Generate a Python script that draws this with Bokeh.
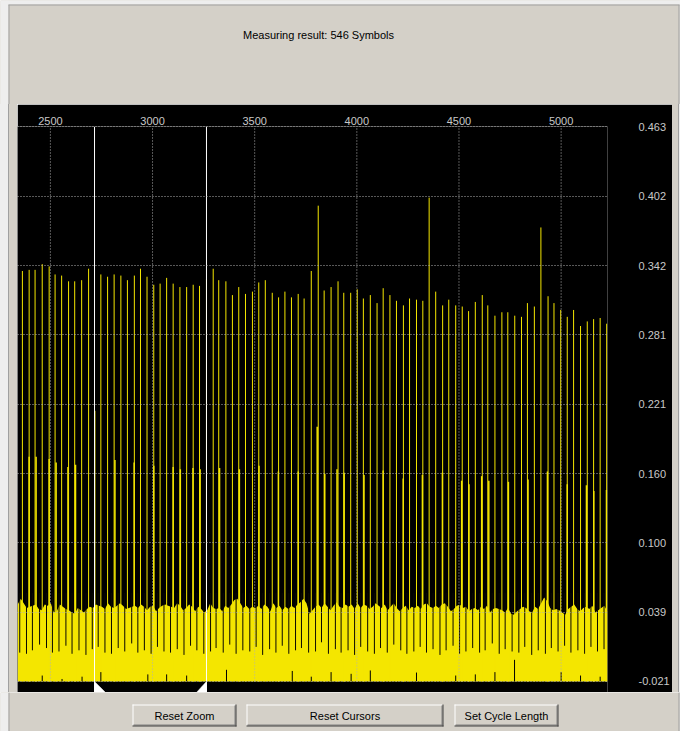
import numpy as np
from bokeh.plotting import figure
from bokeh.layouts import column, row
from bokeh.models import Range1d, FixedTicker, NumeralTickFormatter, Spacer
from bokeh.core.properties import value
from bokeh.embed import file_html
from bokeh.resources import INLINE

PANEL = "#D4D0C8"
OUTER = "#EEEEEE"
EDGE = "#A0A0A0"
YELLOW = "#F4E600"
LABEL = "#C8C8C8"
GRID = "#B0B0B0"
FONT = "Liberation Sans"

# ---------------- data ----------------
title_text = "Measuring result: 546 Symbols"
x_ticks = [2500, 3000, 3500, 4000, 4500, 5000]
y_ticks = [-0.0212, 0.0393, 0.0998, 0.1603, 0.2208, 0.2813, 0.3418, 0.4023, 0.4628]
x_view = (2339, 5227)
y_view = (-0.0308, 0.4631)
floor_level = -0.0212

# tall symbol peaks (sample index, amplitude)
spike_x = [2363, 2396, 2425, 2460, 2494, 2523, 2555, 2589, 2619, 2653,
           2687, 2718, 2747, 2780, 2812, 2845, 2877, 2911, 2941, 2973,
           3006, 3037, 3069, 3101, 3134, 3167, 3199, 3230, 3264, 3297,
           3324, 3359, 3391, 3422, 3455, 3489, 3520, 3552, 3586, 3617,
           3648, 3680, 3713, 3742, 3777, 3811, 3840, 3874, 3908, 3936,
           3970, 4002, 4032, 4066, 4099, 4129, 4162, 4194, 4228, 4258,
           4292, 4323, 4354, 4386, 4420, 4450, 4484, 4516, 4547, 4580,
           4614, 4641, 4676, 4710, 4739, 4773, 4806, 4835, 4869, 4901,
           4936, 4965, 4998, 5030, 5061, 5095, 5128, 5159, 5191, 5223]
spike_y = [0.337, 0.338, 0.338, 0.343, 0.341, 0.334, 0.333, 0.328, 0.328, 0.329,
           0.339, 0.215, 0.334, 0.332, 0.334, 0.333, 0.329, 0.333, 0.339, 0.332,
           0.325, 0.326, 0.331, 0.326, 0.323, 0.323, 0.325, 0.324, 0.330, 0.339,
           0.329, 0.328, 0.316, 0.323, 0.317, 0.319, 0.327, 0.329, 0.318, 0.314,
           0.319, 0.314, 0.317, 0.313, 0.337, 0.394, 0.320, 0.323, 0.328, 0.318,
           0.318, 0.321, 0.313, 0.316, 0.309, 0.322, 0.316, 0.311, 0.307, 0.313,
           0.312, 0.311, 0.401, 0.319, 0.307, 0.312, 0.307, 0.306, 0.302, 0.310,
           0.316, 0.307, 0.298, 0.301, 0.301, 0.298, 0.297, 0.309, 0.306, 0.375,
           0.315, 0.309, 0.303, 0.297, 0.303, 0.289, 0.293, 0.295, 0.296, 0.291]

# shoulder samples of medium height
mid_x = [2396, 2430, 2494, 2528, 2586, 2623, 2816, 2910, 3006, 3101,
         3136, 3198, 3233, 3328, 3425, 3521, 3616, 3713, 3806, 3843,
         3903, 3938, 4035, 4129, 4227, 4321, 4419, 4513, 4549, 4611,
         4646, 4742, 4838, 4933, 5030, 5124, 5160, 5222]
mid_y = [0.175, 0.175, 0.173, 0.170, 0.166, 0.168, 0.172, 0.170, 0.167, 0.166,
         0.164, 0.165, 0.164, 0.165, 0.164, 0.167, 0.162, 0.162, 0.201, 0.160,
         0.164, 0.161, 0.159, 0.163, 0.156, 0.159, 0.161, 0.154, 0.151, 0.158,
         0.154, 0.153, 0.155, 0.162, 0.151, 0.150, 0.145, 0.146]

# dips of the noise floor just before each symbol
notch_x = [2350, 2383, 2412, 2447, 2481, 2510, 2542, 2576, 2606, 2640,
           2674, 2705, 2734, 2767, 2799, 2832, 2864, 2898, 2928, 2960,
           2993, 3024, 3056, 3088, 3121, 3154, 3186, 3217, 3251, 3284,
           3311, 3346, 3378, 3409, 3442, 3476, 3507, 3539, 3573, 3604,
           3635, 3667, 3700, 3729, 3764, 3798, 3827, 3861, 3895, 3923,
           3957, 3989, 4019, 4053, 4086, 4116, 4149, 4181, 4215, 4245,
           4279, 4310, 4341, 4373, 4407, 4437, 4471, 4503, 4534, 4567,
           4601, 4628, 4663, 4697, 4726, 4760, 4793, 4822, 4856, 4888,
           4923, 4952, 4985, 5017, 5048, 5082, 5115, 5146, 5178, 5210]
notch_y = [0.004, 0.003, 0.006, 0.011, 0.008, 0.004, 0.005, 0.010, 0.003, 0.006,
           0.002, 0.007, 0.009, 0.004, 0.003, 0.008, 0.005, 0.012, 0.004, 0.006,
           0.003, 0.009, 0.005, 0.004, 0.007, 0.002, 0.010, 0.006, 0.003, 0.005,
           0.008, 0.004, 0.011, 0.003, 0.006, 0.005, 0.009, 0.002, 0.007, 0.004,
           0.010, 0.003, 0.006, 0.008, 0.004, 0.005, 0.013, 0.003, 0.007, 0.004,
           0.006, 0.002, 0.009, 0.005, 0.003, 0.008, 0.004, 0.011, 0.006, 0.003,
           0.005, 0.009, 0.004, 0.007, 0.002, 0.006, 0.010, 0.003, 0.005, 0.008,
           0.004, 0.006, 0.012, 0.003, 0.007, 0.005, 0.004, 0.009, 0.002, 0.006,
           0.003, 0.008, 0.005, 0.010, 0.004, 0.006, 0.003, 0.009, 0.005, 0.007]

# places where the signal minimum stays above the floor
bump_x = [2460, 2557, 2655, 2747, 2977, 3069, 3167, 3362, 3684, 3777, 3874,
          3972, 4066, 4292, 4484, 4580, 4676, 4772, 5000, 5095, 5191]
bump_y = [-0.016, -0.019, -0.017, -0.013, -0.015, -0.015, -0.016, -0.011, -0.012, -0.017, -0.013,
          -0.0145, -0.0116, -0.0134, -0.016, -0.015, -0.013, -0.0023, -0.013, -0.016, -0.017]

# upper envelope of the noise floor, read left to right across the trace
noise_top = [0.046, 0.051, 0.047, 0.043, 0.044, 0.045, 0.046, 0.042, 0.041, 0.046,
             0.045, 0.047, 0.039, 0.040, 0.046, 0.044, 0.042, 0.041, 0.039, 0.038,
             0.043, 0.041, 0.039, 0.042, 0.044, 0.043, 0.046, 0.045, 0.044, 0.042,
             0.047, 0.044, 0.043, 0.045, 0.047, 0.045, 0.042, 0.043, 0.044, 0.045,
             0.043, 0.046, 0.044, 0.041, 0.044, 0.045, 0.040, 0.043, 0.045, 0.046,
             0.045, 0.044, 0.043, 0.047, 0.045, 0.041, 0.043, 0.046, 0.044, 0.040,
             0.044, 0.042, 0.039, 0.041, 0.047, 0.043, 0.042, 0.043, 0.040, 0.045,
             0.043, 0.046, 0.050, 0.051, 0.047, 0.043, 0.045, 0.042, 0.044, 0.043,
             0.045, 0.042, 0.046, 0.044, 0.040, 0.047, 0.043, 0.045, 0.041, 0.044,
             0.042, 0.045, 0.043, 0.046, 0.048, 0.051, 0.047, 0.038, 0.041, 0.044,
             0.046, 0.043, 0.047, 0.044, 0.041, 0.045, 0.048, 0.044, 0.043, 0.046,
             0.044, 0.046, 0.042, 0.047, 0.043, 0.046, 0.045, 0.042, 0.044, 0.047,
             0.045, 0.043, 0.046, 0.041, 0.044, 0.047, 0.043, 0.040, 0.043, 0.045,
             0.041, 0.044, 0.043, 0.045, 0.042, 0.046, 0.047, 0.044, 0.043, 0.045,
             0.043, 0.046, 0.047, 0.044, 0.040, 0.042, 0.045, 0.046, 0.043, 0.044,
             0.040, 0.042, 0.043, 0.041, 0.044, 0.042, 0.045, 0.039, 0.042, 0.043,
             0.042, 0.041, 0.039, 0.043, 0.038, 0.037, 0.040, 0.042, 0.044, 0.043,
             0.040, 0.039, 0.044, 0.042, 0.047, 0.052, 0.049, 0.043, 0.041, 0.042,
             0.041, 0.039, 0.037, 0.042, 0.044, 0.046, 0.042, 0.040, 0.043, 0.044,
             0.042, 0.045, 0.039, 0.041, 0.043, 0.045, 0.040]
noise_span = (2340, 5226)

cursor_x = [2716, 3264]
cursor_flag = [54, -49]

button_labels = ["Reset Zoom", "Reset Cursors", "Set Cycle Length"]
button_left = [132, 246, 454]
button_right = [236, 443, 558]
button_top, button_bottom = 12, 34

W, H = 680, 731
TOP_H, CH_H = 104, 588
BOT_H = H - TOP_H - CH_H
LEFT_W, RIGHT_W = 17, 8
CH_W = W - LEFT_W - RIGHT_W


def panel_fig(width, height):
    return figure(width=width, height=height, x_range=Range1d(0, width),
                  y_range=Range1d(height, 0), x_axis_type=None, y_axis_type=None,
                  output_backend="svg", toolbar_location=None, min_border=0,
                  outline_line_color=None, background_fill_color=PANEL,
                  border_fill_color=PANEL)


def frame_edges(f, width, height, top_edge=False):
    # window frame: light outer strips and grey edge lines (x = 8 and x = 678)
    y_start = 4 if top_edge else 0
    f.quad(left=[0, 679], right=[8, 680], top=[0, 0], bottom=[height, height],
           fill_color=OUTER, line_color=None)
    f.segment(x0=[8.5, 678.5], y0=[y_start, y_start], x1=[8.5, 678.5], y1=[height, height],
              line_color=EDGE, line_width=1)
    if top_edge:
        f.quad(left=[0], right=[width], top=[0], bottom=[4], fill_color=OUTER, line_color=None)
        f.segment(x0=[8], y0=[4.5], x1=[679], y1=[4.5], line_color=EDGE, line_width=1)


# ---------------- title strip ----------------
top = panel_fig(W, TOP_H)
frame_edges(top, W, TOP_H, top_edge=True)
top.text(x=[318], y=[34], text=[title_text], text_align="center", text_baseline="middle",
         text_font=value(FONT), text_font_size="11px", text_color="#000000")

# ---------------- side strips (plain HTML spacers) ----------------
left = Spacer(width=LEFT_W, height=CH_H, styles={
    "background": f"linear-gradient(to right, {OUTER} 0px, {OUTER} 8px, {EDGE} 8px, "
                  f"{EDGE} 9px, {PANEL} 9px, {PANEL} 17px)"})
right = Spacer(width=RIGHT_W, height=CH_H, styles={
    "background": f"linear-gradient(to right, {PANEL} 0px, {PANEL} 6px, {EDGE} 6px, "
                  f"{EDGE} 7px, {OUTER} 7px, {OUTER} 8px)"})

# ---------------- chart ----------------
p = figure(width=CH_W, height=CH_H, x_range=Range1d(*x_view), y_range=Range1d(*y_view),
           x_axis_location="above", y_axis_location="right",
           output_backend="svg", toolbar_location=None,
           min_border_left=0, min_border_right=63, min_border_top=22, min_border_bottom=0,
           background_fill_color="#000000", border_fill_color="#000000",
           outline_line_color=None)

xa = p.xaxis[0]
xa.ticker = FixedTicker(ticks=x_ticks)
ya = p.yaxis[0]
ya.ticker = FixedTicker(ticks=y_ticks)
ya.formatter = NumeralTickFormatter(format="0.000")
for ax in (xa, ya):
    ax.major_tick_in = 0
    ax.major_tick_out = 0
    ax.minor_tick_in = 0
    ax.minor_tick_out = 0
    ax.axis_line_color = None
    ax.major_label_text_color = LABEL
    ax.major_label_text_font = FONT
    ax.major_label_text_font_size = "11px"
xa.major_label_standoff = 2
ya.major_label_standoff = 31

p.xgrid.visible = False
p.ygrid.ticker = FixedTicker(ticks=y_ticks)
p.ygrid.grid_line_color = GRID
p.ygrid.grid_line_dash = "1 2"
p.ygrid.level = "overlay"

noise_x = np.linspace(noise_span[0], noise_span[1], len(noise_top))
p.varea(x=noise_x, y1=floor_level, y2=noise_top, fill_color=YELLOW, fill_alpha=1)

p.segment(x0=notch_x, y0=notch_y, x1=notch_x, y1=[0.056] * len(notch_x),
          line_color="#0A0900", line_width=1)

p.segment(x0=spike_x, y0=floor_level, x1=spike_x, y1=spike_y,
          line_color=YELLOW, line_width=1)
p.segment(x0=mid_x, y0=floor_level, x1=mid_x, y1=mid_y,
          line_color=YELLOW, line_width=1.5)
p.segment(x0=bump_x, y0=floor_level, x1=bump_x, y1=bump_y,
          line_color="#000000", line_width=1)

# vertical dotted grid, limited to the trace area
p.segment(x0=x_ticks, y0=floor_level, x1=x_ticks, y1=y_ticks[-1],
          line_color=GRID, line_dash="1 2", line_width=1, level="overlay")

# cursors
p.segment(x0=cursor_x, y0=y_ticks[-1], x1=cursor_x, y1=y_view[0],
          line_color="#FFFFFF", line_width=1)
tri_xs = [[c, c, c + f] for c, f in zip(cursor_x, cursor_flag)]
tri_ys = [[floor_level, y_view[0], y_view[0]] for _ in cursor_x]
p.patches(xs=tri_xs, ys=tri_ys, fill_color="#FFFFFF", line_color="#FFFFFF", line_width=0.5)

# ---------------- button strip ----------------
bot = panel_fig(W, BOT_H)
frame_edges(bot, W, BOT_H)
nb = len(button_labels)
bl = np.array(button_left, dtype=float)
br = np.array(button_right, dtype=float)
bt = np.full(nb, float(button_top))
bb = np.full(nb, float(button_bottom))
bot.quad(left=bl, right=br, top=bt, bottom=bb, fill_color=PANEL, line_color=None)
bot.segment(x0=bl, y0=bt + 0.5, x1=br - 1, y1=bt + 0.5, line_color="#FFFFFF", line_width=1)
bot.segment(x0=bl + 0.5, y0=bt, x1=bl + 0.5, y1=bb - 1, line_color="#FFFFFF", line_width=1)
bot.segment(x0=bl + 1, y0=bb - 1.5, x1=br - 1, y1=bb - 1.5, line_color="#808080", line_width=1)
bot.segment(x0=br - 1.5, y0=bt + 1, x1=br - 1.5, y1=bb - 1, line_color="#808080", line_width=1)
bot.segment(x0=bl, y0=bb - 0.5, x1=br, y1=bb - 0.5, line_color="#404040", line_width=1)
bot.segment(x0=br - 0.5, y0=bt, x1=br - 0.5, y1=bb, line_color="#404040", line_width=1)
bot.text(x=(bl + br) / 2, y=(bt + bb) / 2, text=button_labels, text_align="center",
         text_baseline="middle", text_font=value(FONT), text_font_size="11px",
         text_color="#000000")

layout = column(top, row(left, p, right), bot)
open("out.html", "w").write(file_html(layout, INLINE, title="Measuring result"))
